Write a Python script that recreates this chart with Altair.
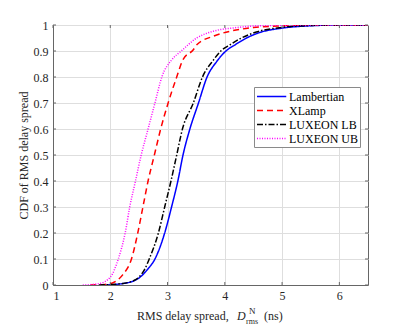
import altair as alt
import pandas as pd

# ---------------- data ----------------
series_names = ["Lambertian", "XLamp", "LUXEON LB", "LUXEON UB"]
series_colors = ["#0000ff", "#ff0000", "#000000", "#ff00ff"]
series_dashes = [[1, 0], [6, 4], [6, 2, 1.5, 2], [1, 1.5]]

lamb_x = [1.9, 2.2, 2.4, 2.52, 2.65, 2.78, 2.95, 3.07, 3.18, 3.27, 3.39, 3.54, 3.69, 3.86, 4.02, 4.18, 4.38, 4.58, 5.0, 5.5, 6.0, 6.5]
lamb_cdf = [0, 0.005, 0.015, 0.03, 0.06, 0.1, 0.2, 0.3, 0.4, 0.5, 0.6, 0.7, 0.8, 0.86, 0.9, 0.924, 0.95, 0.969, 0.988, 0.997, 1.0, 1.0]

xlamp_x = [1.65, 1.9, 2.0, 2.1, 2.22, 2.37, 2.48, 2.57, 2.66, 2.77, 2.88, 3.01, 3.16, 3.27, 3.45, 3.51, 3.8, 4.09, 4.5, 5.0, 5.5, 6.5]
xlamp_cdf = [0, 0.002, 0.005, 0.015, 0.04, 0.1, 0.2, 0.3, 0.4, 0.5, 0.6, 0.7, 0.8, 0.867, 0.905, 0.924, 0.957, 0.976, 0.99, 0.997, 1.0, 1.0]

lb_x = [1.8, 2.1, 2.35, 2.5, 2.6, 2.68, 2.84, 2.95, 3.06, 3.16, 3.26, 3.45, 3.61, 3.8, 3.93, 4.09, 4.29, 4.55, 5.0, 5.5, 6.0, 6.5]
lb_cdf = [0, 0.003, 0.012, 0.03, 0.06, 0.1, 0.2, 0.3, 0.4, 0.5, 0.6, 0.7, 0.8, 0.865, 0.9, 0.924, 0.95, 0.973, 0.991, 0.998, 1.0, 1.0]

ub_x = [1.52, 1.8, 2.0, 2.14, 2.26, 2.34, 2.44, 2.54, 2.66, 2.78, 2.9, 3.07, 3.24, 3.51, 3.8, 4.2, 4.7, 5.5, 6.5]
ub_cdf = [0, 0.005, 0.03, 0.1, 0.2, 0.3, 0.4, 0.5, 0.6, 0.7, 0.8, 0.865, 0.9, 0.95, 0.976, 0.99, 0.998, 1.0, 1.0]

x_ticks = [1, 2, 3, 4, 5, 6]
y_ticks = [0, 0.1, 0.2, 0.3, 0.4, 0.5, 0.6, 0.7, 0.8, 0.9, 1]

# ---------------- build table ----------------
rows = []
for name, xs, ys in zip(series_names, [lamb_x, xlamp_x, lb_x, ub_x], [lamb_cdf, xlamp_cdf, lb_cdf, ub_cdf]):
    for i, (a, b) in enumerate(zip(xs, ys)):
        rows.append({"series": name, "x": a, "cdf": b, "order": i})
df = pd.DataFrame(rows)

W, H = 315, 260
FONT = "Liberation Serif"
TXT = "#262626"
FRAME = "#666666"
GRID = "#dedede"
YTITLE = "CDF of RMS delay spread"

xscale = alt.Scale(domain=[1, 6.5], nice=False, zero=False)
yscale = alt.Scale(domain=[0, 1], nice=False, zero=False)

x_axis = alt.Axis(values=x_ticks, format="~g", ticks=False, tickSize=0, labelPadding=5,
                  labelFont=FONT, labelFontSize=12, labelColor=TXT,
                  domainColor=FRAME, grid=True, gridColor=GRID, gridWidth=1)
y_axis = alt.Axis(values=y_ticks, format="~g", ticks=False, tickSize=0, labelPadding=5,
                  labelFont=FONT, labelFontSize=12, labelColor=TXT,
                  titleFont=FONT, titleFontSize=12, titleFontWeight="normal",
                  titleColor=TXT, titlePadding=3,
                  domainColor=FRAME, grid=True, gridColor=GRID, gridWidth=1)

legend = alt.Legend(
    title=None, orient="none", legendX=201, legendY=62,
    symbolType="M-1,0L3.5,0", symbolSize=169, symbolStrokeWidth=1.5,
    labelFont=FONT, labelFontSize=12, labelColor="#000000", labelOffset=18,
    strokeColor="#8a8a8a", fillColor="#ffffff", padding=2, rowPadding=0,
    cornerRadius=0,
)

lines = alt.Chart(df).mark_line(strokeWidth=1.5, interpolate="monotone", clip=True).encode(
    x=alt.X("x:Q", scale=xscale, title=None, axis=x_axis),
    y=alt.Y("cdf:Q", scale=yscale, title=YTITLE, axis=y_axis),
    color=alt.Color("series:N", scale=alt.Scale(domain=series_names, range=series_colors), legend=legend),
    strokeDash=alt.StrokeDash("series:N", scale=alt.Scale(domain=series_names, range=series_dashes), legend=legend),
    order="order:Q",
)

# inward ticks on all four sides (MATLAB box style)
xt = pd.DataFrame({"t": x_ticks})
yt = pd.DataFrame({"t": y_ticks})
tick_style = dict(color=FRAME, strokeWidth=1)
xt_bot = alt.Chart(xt).mark_rule(**tick_style).encode(
    x=alt.X("t:Q", scale=xscale, title=None, axis=x_axis), y=alt.value(H), y2=alt.value(H - 3))
xt_top = alt.Chart(xt).mark_rule(**tick_style).encode(
    x=alt.X("t:Q", scale=xscale, title=None, axis=x_axis), y=alt.value(0), y2=alt.value(3))
yt_left = alt.Chart(yt).mark_rule(**tick_style).encode(
    y=alt.Y("t:Q", scale=yscale, title=YTITLE, axis=y_axis), x=alt.value(0), x2=alt.value(3))
yt_right = alt.Chart(yt).mark_rule(**tick_style).encode(
    y=alt.Y("t:Q", scale=yscale, title=YTITLE, axis=y_axis), x=alt.value(W), x2=alt.value(W - 3))

# x-axis title with sub/superscript
one = pd.DataFrame({"k": [0]})
def txt(s, x, y, size=12, style="normal"):
    return alt.Chart(one).mark_text(
        text=s, font=FONT, fontSize=size, fontStyle=style, color=TXT,
        align="left", baseline="alphabetic"
    ).encode(x=alt.value(x), y=alt.value(y))

xtitle = (
    txt("RMS delay spread,", 84, 295)
    + txt("D", 184, 295, 12, "italic")
    + txt("N", 196, 288.5, 9)
    + txt("rms", 193, 299, 8)
    + txt("(ns)", 211, 295)
)

chart = alt.layer(lines, xt_bot, xt_top, yt_left, yt_right, xtitle).properties(
    width=W, height=H,
    padding={"left": 45, "top": 17, "right": 25, "bottom": 50},
    autosize=alt.AutoSizeParams(type="none"),
).configure_view(stroke=FRAME, strokeWidth=1)

chart.save("out.html", embed_options={"renderer": "svg", "actions": False})
